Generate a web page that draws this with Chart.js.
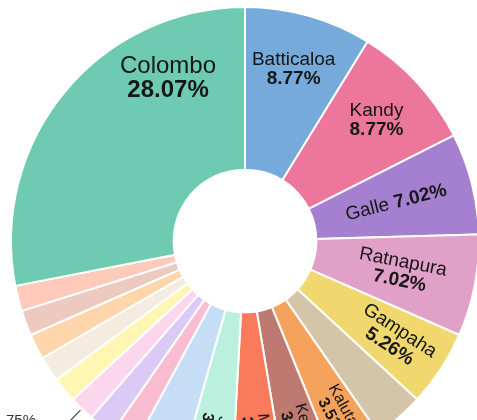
<!DOCTYPE html>
<html>
<head>
<meta charset="utf-8">
<script src="https://cdn.jsdelivr.net/npm/chart.js@4"></script>
<style>
  html, body { margin: 0; padding: 0; background: #fff; }
  #wrap { width: 477px; height: 420px; position: relative; }
</style>
</head>
<body>
<div id="wrap"><canvas id="c"></canvas></div>
<script>
// slices, clockwise from 12 o'clock
const districts = ['Batticaloa', 'Kandy', 'Galle', 'Ratnapura', 'Gampaha', 'Anuradhapura',
  'Kalutara', 'Kegalle', 'Matara', 'Jaffna', 'Nuwara Eliya', 'Kurunegala', 'Badulla',
  'Puttalam', 'Hambantota', 'Ampara', 'Trincomalee', 'Matale', 'Polonnaruwa', 'Colombo']
const counts = [5, 5, 4, 4, 3, 2, 2, 2, 2, 2, 2, 1, 1, 1, 1, 1, 1, 1, 1, 16]
const colors = ['#75aada', '#ec769c', '#a580d0', '#e1a0c8', '#f0d86e', '#d4c5a8',
  '#f4a25c', '#be7a70', '#fa7a5c', '#bcf0de', '#c5def6', '#fabcd0', '#dacaf5',
  '#fcd6ec', '#fff6b4', '#f4ecde', '#ffd6ac', '#eccac0', '#ffcaba', '#6ecbb1']

// where labels sit inside a slice (fraction along the arc / across the ring)
const labelSpots = {
  Colombo: { along: 0.75, out: 0.67 },
  Galle: { out: 0.52, oneLine: true },
  Ratnapura: { out: 0.54 }
}
const callouts = ['Puttalam']

const FONT = '"Liberation Sans", Arial, Helvetica, sans-serif'

const sliceLabels = {
  id: 'sliceLabels',
  afterDatasetsDraw(chart) {
    const ctx = chart.ctx
    const meta = chart.getDatasetMeta(0)
    const total = counts.reduce((a, b) => a + b, 0)
    meta.data.forEach((arc, i) => {
      const p = arc.getProps(['x', 'y', 'startAngle', 'endAngle', 'innerRadius', 'outerRadius'], true)
      const name = districts[i]
      const pct = (counts[i] / total * 100).toFixed(2) + '%'

      if (callouts.includes(name)) {
        // small slice: percentage outside with a leader line
        const a = (p.startAngle + p.endAngle) / 2
        const r1 = p.outerRadius + 2, r2 = p.outerRadius + 24
        const x1 = p.x + r1 * Math.cos(a), y1 = p.y + r1 * Math.sin(a)
        const x2 = p.x + r2 * Math.cos(a), y2 = p.y + r2 * Math.sin(a)
        ctx.save()
        ctx.strokeStyle = '#444'
        ctx.lineWidth = 1.2
        ctx.beginPath()
        ctx.moveTo(x1, y1)
        ctx.lineTo(x2, y2)
        ctx.lineTo(40, y2)
        ctx.stroke()
        ctx.fillStyle = '#333'
        ctx.font = '15px ' + FONT
        ctx.textAlign = 'right'
        ctx.textBaseline = 'middle'
        ctx.fillText(pct, 36, y2 - 5)
        ctx.restore()
        return
      }
      if (counts[i] < 2 || name.length > 10) return

      const spot = labelSpots[name] || {}
      const along = spot.along ?? 0.5
      const out = spot.out ?? (counts[i] >= 3 ? 0.66 : 0.78)
      const a = p.startAngle + along * (p.endAngle - p.startAngle)
      const r = p.innerRadius + out * (p.outerRadius - p.innerRadius)
      const x = p.x + r * Math.cos(a), y = p.y + r * Math.sin(a)
      let deg = (a * 180 / Math.PI + 90) % 360
      if (deg < 0) deg += 360
      const rot = (deg >= 60 && deg <= 200) ? a : 0
      const fs = counts[i] >= 10 ? 24 : counts[i] >= 3 ? 19 : 16

      ctx.save()
      ctx.translate(x, y)
      ctx.rotate(rot)
      ctx.fillStyle = '#161616'
      ctx.textBaseline = 'middle'
      if (spot.oneLine) {
        ctx.font = fs + 'px ' + FONT
        const w1 = ctx.measureText(name + ' ').width
        ctx.font = 'bold ' + fs + 'px ' + FONT
        const w2 = ctx.measureText(pct).width
        const x0 = -(w1 + w2) / 2
        ctx.textAlign = 'left'
        ctx.font = fs + 'px ' + FONT
        ctx.fillText(name + ' ', x0, 0)
        ctx.font = 'bold ' + fs + 'px ' + FONT
        ctx.fillText(pct, x0 + w1, 0)
      } else {
        ctx.textAlign = 'center'
        ctx.font = fs + 'px ' + FONT
        ctx.fillText(name, 0, -fs * 0.5)
        ctx.font = 'bold ' + fs + 'px ' + FONT
        ctx.fillText(pct, 0, fs * 0.5)
      }
      ctx.restore()
    })
  }
}

new Chart(document.getElementById('c'), {
  type: 'doughnut',
  data: {
    labels: districts,
    datasets: [{
      data: counts,
      backgroundColor: colors,
      borderColor: '#ffffff',
      borderWidth: 2,
      hoverOffset: 0
    }]
  },
  options: {
    responsive: true,
    maintainAspectRatio: false,
    animation: false,
    radius: 234,
    cutout: '30.5%',
    layout: { padding: { left: 13, top: 62, right: 0, bottom: 0 } },
    plugins: {
      legend: { display: false },
      tooltip: { enabled: false }
    }
  },
  plugins: [sliceLabels]
})
</script>
</body>
</html>
